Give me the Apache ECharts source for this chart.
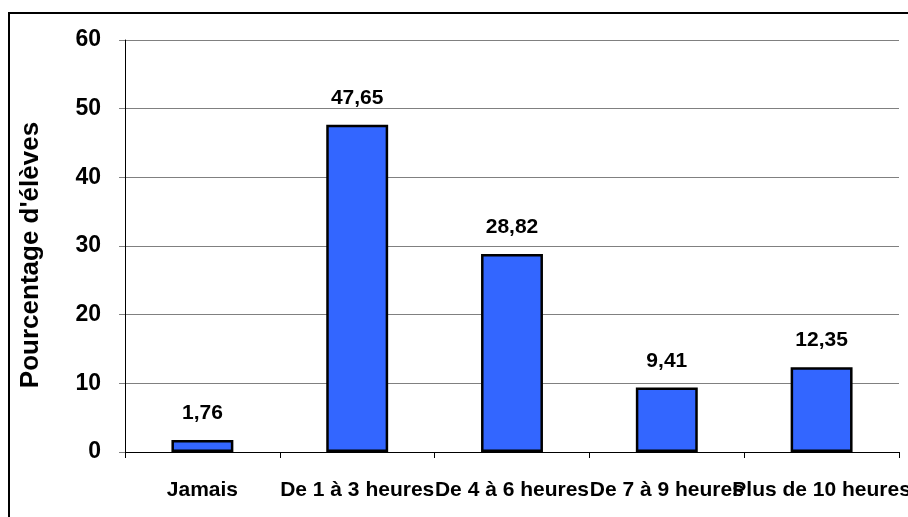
<!DOCTYPE html>
<html>
<head>
<meta charset="utf-8">
<script src="https://cdn.jsdelivr.net/npm/echarts@6/dist/echarts.min.js"></script>
<style>
  html, body { margin: 0; padding: 0; background: #fff; }
  #chart { width: 908px; height: 517px; }
</style>
</head>
<body>
<div id="chart"></div>
<script>
var categories = ['Jamais', 'De 1 à 3 heures', 'De 4 à 6 heures', 'De 7 à 9 heures', 'Plus de 10 heures']
var values = [1.76, 47.65, 28.82, 9.41, 12.35]
var yTitle = "Pourcentage d'élèves"

var font = 'Liberation Sans, Arial, sans-serif'

var myChart = echarts.init(document.getElementById('chart'))
myChart.setOption({
  animation: false,
  backgroundColor: '#fff',
  graphic: [{
    type: 'rect',
    shape: { x: 9, y: 13, width: 920, height: 540 },
    style: { fill: 'none', stroke: '#000', lineWidth: 2 },
    silent: true
  }],
  grid: { left: 125, top: 40, right: 9, bottom: 65, outerBoundsMode: 'none', containLabel: false },
  xAxis: {
    type: 'category',
    data: categories,
    axisLine: { lineStyle: { color: '#000', width: 1 } },
    axisTick: { show: true, length: 6, lineStyle: { color: '#000' } },
    axisLabel: {
      interval: 0,
      hideOverlap: false,
      margin: 28,
      color: '#000',
      fontFamily: font,
      fontWeight: 'bold',
      fontSize: 21
    }
  },
  yAxis: {
    type: 'value',
    min: 0,
    max: 60,
    interval: 10,
    name: yTitle,
    nameLocation: 'middle',
    nameGap: 81,
    nameTextStyle: {
      color: '#000',
      fontFamily: font,
      fontWeight: 'bold',
      fontSize: 26,
      padding: [0, 0, 0, -18]
    },
    axisLine: { show: true, lineStyle: { color: '#000', width: 1 } },
    axisTick: { show: true, length: 6, lineStyle: { color: '#808080' } },
    splitLine: { lineStyle: { color: '#808080', width: 1 } },
    axisLabel: {
      margin: 24,
      color: '#000',
      fontFamily: font,
      fontWeight: 'bold',
      fontSize: 23
    }
  },
  series: [{
    type: 'bar',
    data: values,
    barWidth: '40%',
    itemStyle: { color: '#3366FF', borderColor: '#000', borderWidth: 2.5 },
    label: {
      show: true,
      position: 'top',
      distance: 16,
      color: '#000',
      fontFamily: font,
      fontWeight: 'bold',
      fontSize: 21,
      formatter: function (p) { return p.value.toFixed(2).replace('.', ',') }
    }
  }]
})
</script>
</body>
</html>
